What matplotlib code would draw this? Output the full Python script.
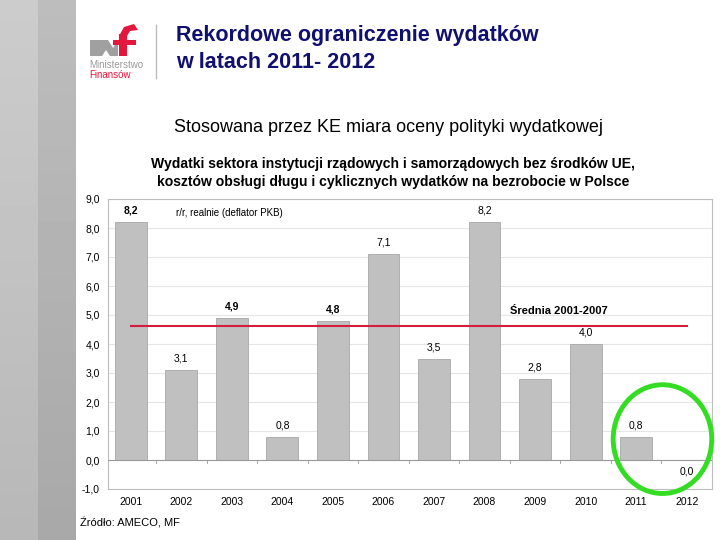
import matplotlib.pyplot as plt
import numpy as np
from matplotlib.patches import Ellipse, Rectangle, Polygon, Wedge

plt.rcParams['font.family'] = ['Liberation Sans', 'DejaVu Sans']

years = ['2001', '2002', '2003', '2004', '2005', '2006',
         '2007', '2008', '2009', '2010', '2011', '2012']
values = [8.2, 3.1, 4.9, 0.8, 4.8, 7.1, 3.5, 8.2, 2.8, 4.0, 0.8, 0.0]
labels = ['8,2', '3,1', '4,9', '0,8', '4,8', '7,1', '3,5', '8,2', '2,8', '4,0', '0,8', '0,0']
avg_years = 7  # 2001-2007
y_ticks = [-1, 0, 1, 2, 3, 4, 5, 6, 7, 8, 9]

fig = plt.figure(figsize=(7.2, 5.4), dpi=100)

# slide background: gray band on the left
bg = fig.add_axes([0, 0, 1, 1], zorder=-10)
bg.axis('off')
bg.imshow(np.linspace(0.80, 0.72, 100).reshape(-1, 1), cmap='gray', vmin=0, vmax=1,
          extent=[0, 38, 540, 0], aspect='auto')
bg.imshow(np.linspace(0.74, 0.66, 100).reshape(-1, 1), cmap='gray', vmin=0, vmax=1,
          extent=[38, 76, 540, 0], aspect='auto')
bg.add_patch(Wedge((-40, 560), 160, 0, 90, color='white', alpha=0.12, lw=0))
bg.set_xlim(0, 720)
bg.set_ylim(540, 0)

# logo
bg.add_patch(Polygon([(90, 40), (108, 40), (113, 48), (118, 40), (118, 56),
                      (110, 56), (106, 50), (102, 56), (90, 56)], color='#a0a0a0', lw=0))
bg.add_patch(Rectangle((119, 34), 8, 22, color='#e3173e', lw=0))
bg.add_patch(Polygon([(119, 36), (124, 27), (134, 24), (138, 30), (130, 31), (127, 36)],
                     color='#e3173e', lw=0))
bg.add_patch(Rectangle((113, 40), 23, 5, color='#e3173e', lw=0))
bg.text(89, 65, 'Ministerstwo', fontsize=7, color='#9a9a9a', va='center')
bg.text(89, 75, 'Finansów', fontsize=7, color='#e3173e', va='center')
bg.plot([156, 156], [25, 78], color='#bbbbbb', lw=1)

bg.text(176, 36, 'Rekordowe ograniczenie wydatków', fontsize=15.5, fontweight='bold',
        color='#101070', va='center')
bg.text(176, 62, 'w latach 2011- 2012', fontsize=15.5, fontweight='bold',
        color='#101070', va='center')
bg.text(174, 128, 'Stosowana przez KE miara oceny polityki wydatkowej', fontsize=13,
        color='black', va='center')
bg.text(393, 173, 'Wydatki sektora instytucji rządowych i samorządowych bez środków UE,\n'
        'kosztów obsługi długu i cyklicznych wydatków na bezrobocie w Polsce',
        fontsize=10.1, fontweight='bold', ha='center', va='center', linespacing=1.3)
bg.text(80, 523, 'Źródło: AMECO, MF', fontsize=8, va='center')

# chart
ax = fig.add_axes([108 / 720, 51 / 540, 604 / 720, 290 / 540])
x = np.arange(len(years))
ax.bar(x, values, width=0.63, color='#c0c0c0', edgecolor='#a8a8a8', linewidth=0.6, zorder=2)
ax.set_xlim(-0.45, len(years) - 0.5)
ax.set_ylim(-1, 9)
ax.set_yticks(y_ticks)
ax.set_yticklabels([f'{t:.1f}'.replace('.', ',') for t in y_ticks], fontsize=7.5)
ax.grid(axis='y', color='#e6e6e6', lw=0.8, zorder=0)
ax.tick_params(axis='y', length=0, pad=6)
ax.tick_params(axis='x', length=0, pad=6)
ax.set_xticks(x)
ax.set_xticklabels(years, fontsize=7.5)
for s in ax.spines.values():
    s.set_color('#bdbdbd')
    s.set_linewidth(0.8)

# zero line with category ticks
ax.axhline(0, color='#9a9a9a', lw=0.8, zorder=3)
for b in np.arange(-0.5, len(years), 1.0):
    ax.plot([b, b], [0, -0.12], color='#9a9a9a', lw=0.6, zorder=3)

# labels that look heavier in the original
heavy = {0, 2, 4}
for i, (v, lab) in enumerate(zip(values, labels)):
    w = 'bold' if i in heavy else 'normal'
    if v > 0:
        ax.text(i, v + 0.22, lab, ha='center', va='bottom', fontsize=7.5, fontweight=w)
    else:
        ax.text(i, -0.22, lab, ha='center', va='top', fontsize=7.5)

avg = np.mean(values[:avg_years])
ax.plot([x[0], x[-1]], [avg, avg], color='#d41c3c', lw=1.5, zorder=4)
ax.text(7.5, avg + 0.35, 'Średnia 2001-2007', fontsize=8, fontweight='bold', va='bottom')
ax.text(0.9, 8.5, 'r/r, realnie (deflator PKB)', fontsize=7, va='center')

ax.add_patch(Ellipse((10.52, 0.72), 1.95, 3.75, fill=False, edgecolor='#33dd22', lw=3.5,
                     clip_on=False, zorder=5))

fig.savefig('out.png', dpi=100)
